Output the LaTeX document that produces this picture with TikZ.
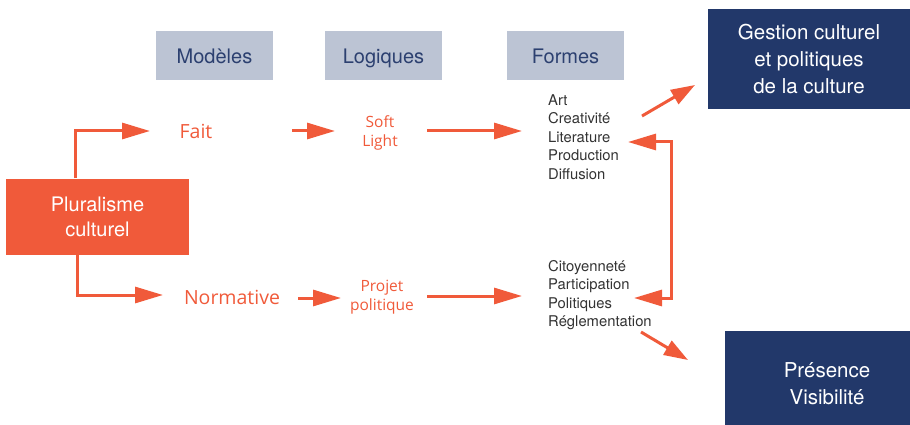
\documentclass[tikz,border=0pt]{standalone}
\usepackage{fontspec}
\setmainfont{TeX Gyre Heros}
\newfontfamily\lblfont{Open Sans}
\usetikzlibrary{arrows.meta}
\definecolor{myorange}{HTML}{F05A3A}
\definecolor{mynavy}{HTML}{22386A}
\definecolor{mygray}{HTML}{BCC4D4}
\definecolor{myhead}{HTML}{2C4070}
\definecolor{mytext}{HTML}{333333}
\tikzset{
  headbox/.style={fill=mygray, text=myhead, minimum width=117pt, minimum height=49pt, inner sep=0pt, text height=21pt, text depth=4pt, font=\fontsize{20}{24}\selectfont},
  navybox/.style={fill=mynavy, text=white, inner sep=0pt, align=center, font=\fontsize{20.5}{27}\selectfont},
  orangebox/.style={fill=myorange, text=white, minimum width=183pt, minimum height=76pt, inner sep=0pt, align=center, font=\fontsize{20}{25}\selectfont},
  biglbl/.style={text=myorange, inner sep=0pt, font=\lblfont\fontsize{19.5}{24}\selectfont},
  smalllbl/.style={text=myorange, inner sep=0pt, align=center, font=\lblfont\fontsize{15.5}{19.5}\selectfont},
  listtxt/.style={text=mytext, inner sep=0pt, align=left, anchor=west, font=\fontsize{14.8}{18.6}\selectfont},
  arr/.style={draw=myorange, line width=3pt, -{Triangle[length=28pt,width=16pt]}},
  darr/.style={draw=myorange, line width=3pt, {Triangle[length=28pt,width=16pt]}-{Triangle[length=28pt,width=16pt]}},
  diag/.style={draw=myorange, line width=3pt, -{Triangle[length=24pt,width=16pt]}}
}
\begin{document}
\begin{tikzpicture}[x=1pt,y=-1pt]
\useasboundingbox (0,0) rectangle (910,425);
% headers
\node[headbox] (mod) at (214.5,55.5) {Modèles};
\node[headbox] (log) at (383.5,55.5) {Logiques};
\node[headbox] (form) at (565.5,55.5) {Formes};
% main box
\node[orangebox] (plur) at (97.5,216.5) {Pluralisme\\culturel};
% navy boxes
\node[navybox, minimum width=202pt, minimum height=100pt] (gest) at (809,59) {Gestion culturel\\et politiques\\de la culture};
\node[navybox, minimum width=185pt, minimum height=94pt] (pres) at (817.5,378) {};
\node[navybox, fill=none] (prestxt) at (827,384) {Présence\\Visibilité};
% labels
\node[biglbl] (fait) at (196,131) {Fait};
\node[biglbl] (norm) at (232,297) {Normative};
\node[smalllbl] (soft) at (380,133) {Soft\\Light};
\node[smalllbl] (proj) at (382,297) {Projet\\politique};
% lists
\node[listtxt] (list1) at (548,137) {Art\\Creativité\\Literature\\Production\\Diffusion};
\node[listtxt] (list2) at (548,295) {Citoyenneté\\Participation\\Politiques\\Réglementation};
% coordinates for arrows
\coordinate (faitin) at (150,131);
\coordinate (normin) at (163,295);
\coordinate (a1s) at (292,131);
\coordinate (a1e) at (335,131);
\coordinate (a2s) at (427,131);
\coordinate (a2e) at (522,131);
\coordinate (b1s) at (298,298);
\coordinate (b1e) at (341,298);
\coordinate (b2s) at (427,296);
\coordinate (b2e) at (522,296);
\coordinate (br1) at (628,142);
\coordinate (br2) at (634,298);
\coordinate (d1s) at (642,116);
\coordinate (d1e) at (695,85);
\coordinate (d2s) at (641,332);
\coordinate (d2e) at (688,360);
% arrows
\draw[arr] (plur.north -| 75,0) |- (faitin);
\draw[arr] (plur.south -| 77,0) |- (normin);
\draw[arr] (a1s) -- (a1e);
\draw[arr] (a2s) -- (a2e);
\draw[arr] (b1s) -- (b1e);
\draw[arr] (b2s) -- (b2e);
\draw[darr] (br1) -- (671,142) -- (671,298) -- (br2);
\draw[diag] (d1s) -- (d1e);
\draw[diag] (d2s) -- (d2e);
\end{tikzpicture}
\end{document}
